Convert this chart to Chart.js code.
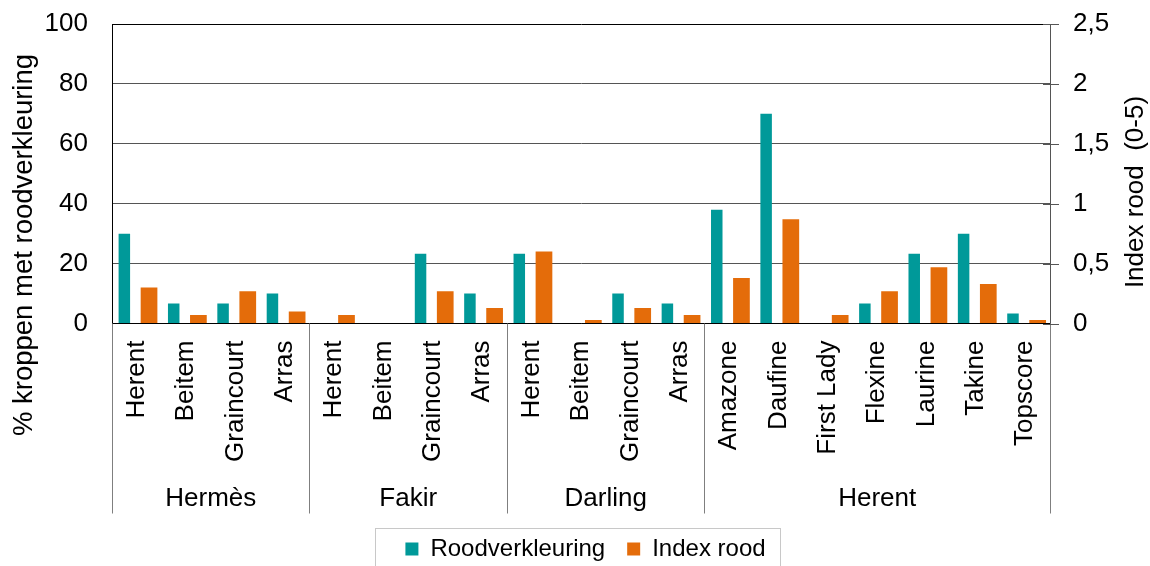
<!DOCTYPE html>
<html>
<head>
<meta charset="utf-8">
<script src="https://cdn.jsdelivr.net/npm/chart.js@4/dist/chart.umd.min.js"></script>
<style>
  html, body { margin: 0; padding: 0; background: #fff; }
  canvas { display: block; }
</style>
</head>
<body>
<canvas id="chart" width="1150" height="566"></canvas>
<script>
// Varieties per location (x axis), grouped by location
const categories = ['Herent', 'Beitem', 'Graincourt', 'Arras',
                    'Herent', 'Beitem', 'Graincourt', 'Arras',
                    'Herent', 'Beitem', 'Graincourt', 'Arras',
                    'Amazone', 'Daufine', 'First Lady', 'Flexine', 'Laurine', 'Takine', 'Topscore'];
const groups = ['Hermès', 'Fakir', 'Darling', 'Herent'];
const groupSizes = [4, 4, 4, 7];

// % tubers with red discolouration (left axis)
const roodverkleuring = [30, 6.7, 6.7, 10, 0, 0, 23.3, 10, 23.3, 0, 10, 6.7, 38, 70, 0, 6.7, 23.3, 30, 3.3];
// Red index, scale 0-5 (right axis)
const indexRood = [0.30, 0.07, 0.27, 0.10, 0.07, 0, 0.27, 0.13, 0.60, 0.03, 0.13, 0.07, 0.38, 0.87, 0.07, 0.27, 0.47, 0.33, 0.03];

const leftTickLabels = ['0', '20', '40', '60', '80', '100'];
const rightTickLabels = ['0', '0,5', '1', '1,5', '2', '2,5'];
const leftTitle = '% kroppen met roodverkleuring';
const rightTitle = 'Index rood  (0-5)';
const seriesNames = ['Roodverkleuring', 'Index rood'];

const FONT = '"Liberation Sans", Arial, Helvetica, sans-serif';
const TEAL = '#009999';
const ORANGE = '#E46C0A';
const GRID = '#555555';

Chart.defaults.font.family = FONT;
Chart.defaults.color = '#000';

// Group separators, group names, axis titles, right-axis cross ticks and legend frame
const decor = {
  id: 'decor',
  afterDraw(chart) {
    const { ctx, chartArea: a, scales: { x, y1 } } = chart;
    const step = x.getPixelForValue(1) - x.getPixelForValue(0);
    const edges = [0];
    groupSizes.forEach(n => edges.push(edges[edges.length - 1] + n));
    const edgePx = edges.map(i => x.getPixelForValue(i) - step / 2);

    ctx.save();
    ctx.strokeStyle = '#7f7f7f';
    ctx.lineWidth = 1;
    edgePx.forEach(px => {
      const xx = Math.round(px) + 0.5;
      ctx.beginPath();
      ctx.moveTo(xx, a.bottom);
      ctx.lineTo(xx, a.bottom + 190);
      ctx.stroke();
    });

    // cross tick marks on the right axis
    ctx.strokeStyle = GRID;
    y1.ticks.forEach(t => {
      const yy = Math.round(y1.getPixelForValue(t.value)) + 0.5;
      ctx.beginPath();
      ctx.moveTo(a.right - 7, yy);
      ctx.lineTo(a.right + 9, yy);
      ctx.stroke();
    });

    ctx.fillStyle = '#000';
    ctx.font = '26px ' + FONT;
    ctx.textAlign = 'center';
    ctx.textBaseline = 'middle';
    groups.forEach((g, i) => {
      ctx.fillText(g, (edgePx[i] + edgePx[i + 1]) / 2, a.bottom + 175);
    });

    // axis titles
    ctx.save();
    ctx.font = '27.5px ' + FONT;
    ctx.translate(24, 245);
    ctx.rotate(-Math.PI / 2);
    ctx.fillText(leftTitle, 0, 0);
    ctx.restore();

    ctx.save();
    ctx.translate(1136, 192);
    ctx.rotate(-Math.PI / 2);
    ctx.fillText(rightTitle, 0, 0);
    ctx.restore();

    // legend frame
    const lg = chart.legend;
    if (lg && lg.legendHitBoxes && lg.legendHitBoxes.length) {
      const hb = lg.legendHitBoxes;
      const last = hb[hb.length - 1];
      const l = Math.round(hb[0].left - 30) + 0.5;
      const r = Math.round(last.left + last.width + 14) + 0.5;
      const t = Math.round(lg.top + 13) + 0.5;
      ctx.strokeStyle = '#c8c8c8';
      ctx.strokeRect(l, t, r - l, 60);
    }
    ctx.restore();
  }
};

new Chart(document.getElementById('chart'), {
  type: 'bar',
  data: {
    labels: categories,
    datasets: [
      {
        label: seriesNames[0],
        data: roodverkleuring,
        backgroundColor: TEAL,
        yAxisID: 'y',
        categoryPercentage: 1,
        barPercentage: 0.466
      },
      {
        label: seriesNames[1],
        data: indexRood,
        backgroundColor: ORANGE,
        yAxisID: 'y1',
        categoryPercentage: 1,
        barPercentage: 0.677
      }
    ]
  },
  options: {
    responsive: false,
    animation: false,
    events: [],
    layout: { padding: { top: 24, left: 21, right: 0, bottom: -5 } },
    plugins: {
      legend: {
        position: 'bottom',
        labels: {
          boxWidth: 13,
          boxHeight: 13,
          padding: 22,
          font: { size: 24 },
          color: '#000'
        }
      },
      tooltip: { enabled: false }
    },
    scales: {
      x: {
        grid: { display: false },
        border: { display: true, color: '#000', width: 1 },
        ticks: {
          autoSkip: false,
          maxRotation: 90,
          minRotation: 90,
          padding: 9,
          font: { size: 26 },
          color: '#000'
        },
        afterFit(scale) { scale.height = 191.5; }
      },
      y: {
        position: 'left',
        min: 0,
        max: 100,
        ticks: {
          stepSize: 20,
          padding: 0,
          font: { size: 26 },
          color: '#000',
          callback: (v, i) => leftTickLabels[i]
        },
        grid: {
          drawTicks: true,
          tickLength: 24,
          tickColor: 'rgba(0,0,0,0)',
          color: ctx => (ctx.tick && ctx.tick.value === 100) ? '#000' : GRID,
          lineWidth: 1
        },
        border: { display: true, color: '#000', width: 1 },
        afterFit(scale) { scale.width = 91; }
      },
      y1: {
        position: 'right',
        min: 0,
        max: 2.5,
        ticks: {
          stepSize: 0.5,
          padding: 0,
          font: { size: 26 },
          color: '#000',
          callback: (v, i) => rightTickLabels[i]
        },
        grid: {
          drawOnChartArea: false,
          drawTicks: true,
          tickLength: 23,
          tickColor: 'rgba(0,0,0,0)',
          color: GRID
        },
        border: { display: true, color: GRID, width: 1 },
        afterFit(scale) { scale.width = 100; }
      }
    }
  },
  plugins: [decor]
});
</script>
</body>
</html>
